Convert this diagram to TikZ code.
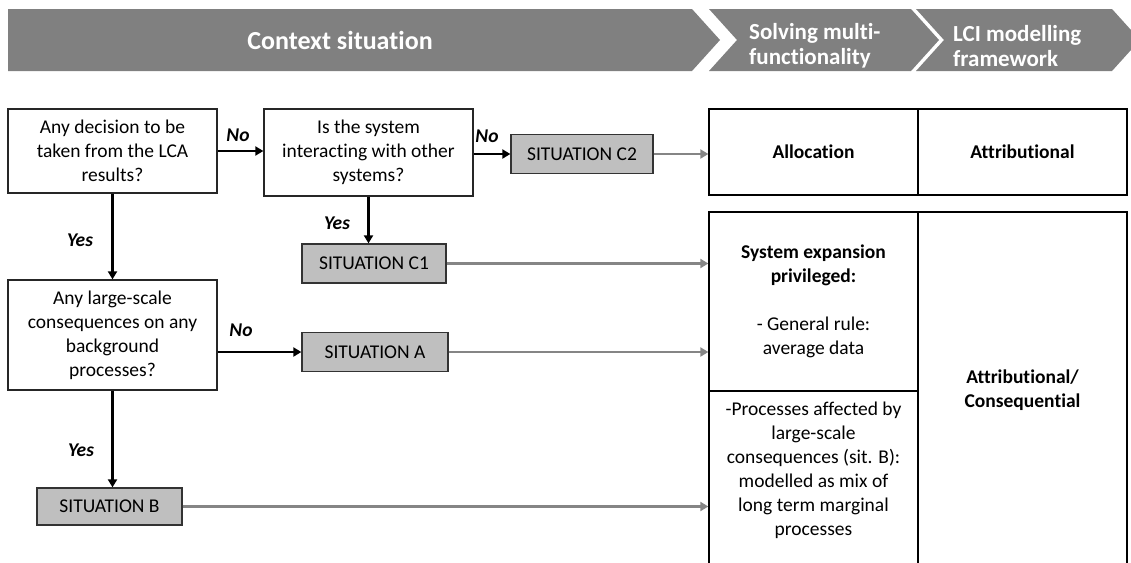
\documentclass[tikz,border=0pt]{standalone}
\usepackage{fontspec}
\setmainfont{Carlito}[Ligatures=NoCommon]
\usetikzlibrary{arrows.meta}
\definecolor{bannergray}{HTML}{808080}
\definecolor{sitgray}{HTML}{BFBFBF}
\definecolor{linkgray}{HTML}{858585}
\tikzset{
  body/.style={font=\fontsize{19.5}{24}\selectfont, align=center, inner sep=0pt},
  qbox/.style={body, draw=black!85, line width=1.3pt, fill=white},
  sitbox/.style={body, draw=black!80, line width=1.3pt, fill=sitgray, minimum height=39pt},
  cell/.style={body, draw=black, line width=1.3pt, minimum width=209pt},
  lbl/.style={font=\fontsize{19.5}{24}\selectfont\bfseries\itshape, inner sep=0pt},
  banner/.style={fill=bannergray, draw=none},
  bantext/.style={text=white, font=\fontsize{23}{25}\selectfont\bfseries, inner sep=0pt},
  arr/.style={draw=black, line width=2.2pt, -{Triangle[length=8pt,width=9pt]}},
  garr/.style={draw=linkgray, line width=2.2pt, -{Triangle[length=8pt,width=9pt]}}
}
\begin{document}
\begin{tikzpicture}[x=1pt,y=-1pt]
\useasboundingbox (0,0) rectangle (1131,562);
\clip (0,0) rectangle (1131,562);
% banner
\fill[banner] (8,9) -- (692,9) -- (720,40) -- (692,71) -- (8,71) -- cycle;
\fill[banner] (709,9) -- (911,9) -- (939,40) -- (911,71) -- (709,71) -- (737,40) -- cycle;
\fill[banner] (916,9) -- (1112,9) -- (1140,40) -- (1112,71) -- (916,71) -- (944,40) -- cycle;
\node[bantext, font=\fontsize{26}{28}\selectfont\bfseries] (tctx) at (340,40) {Context situation};
\node[bantext, anchor=west, align=left] (tsolve) at (749,46) {Solving multi-\\functionality};
\node[bantext, anchor=west, align=left] (tlci) at (953,46) {LCI modelling\\framework};
% questions
\node[qbox, minimum width=209pt, minimum height=84pt] (q1) at (112.5,151) {Any decision to be\\taken from the LCA\\results?};
\node[qbox, minimum width=209pt, minimum height=87pt] (q2) at (368.5,152.5) {Is the system\\interacting with other\\systems?};
\node[qbox, minimum width=209pt, minimum height=110pt] (q3) at (112.5,335) {Any large-scale\\consequences on any\\background\\processes?};
% situations
\node[sitbox, minimum width=142pt] (c2) at (582,154) {SITUATION C2};
\node[sitbox, minimum width=144pt] (c1) at (374,263.5) {SITUATION C1};
\node[sitbox, minimum width=146pt] (sa) at (375,352) {SITUATION A};
\node[sitbox, minimum width=145pt, minimum height=37pt] (sb) at (109.5,506.5) {SITUATION B};
% tables
\node[cell, minimum height=86pt, font=\fontsize{19.5}{24}\selectfont\bfseries] (alloc) at (813.5,152) {Allocation};
\node[cell, minimum height=86pt, font=\fontsize{19.5}{24}\selectfont\bfseries] (attr) at (1022.5,152) {Attributional};
\node[cell, minimum height=179pt] (sysexp) at (813.5,301.5) {\textbf{System expansion}\\\textbf{privileged:}\\[24pt]- General rule:\\average data};
\node[cell, minimum height=179pt] (low) at (813.5,480.5) {};
\node[body] (lowtext) at (813.5,470) {-Processes affected by\\large-scale\\consequences (sit. B):\\modelled as mix of\\long term marginal\\processes};
\node[cell, minimum height=358pt, font=\fontsize{19.5}{24}\selectfont\bfseries] (attcons) at (1022.5,391) {\raisebox{5pt}{\begin{tabular}{@{}c@{}}Attributional/\\Consequential\end{tabular}}};
% black connectors
\draw[arr] (q1.east) -- (q1.east -| q2.west);
\draw[arr] (c2.west -| q2.east) -- (c2.west);
\draw[arr] (q2.south) -- (q2.south |- c1.north);
\draw[arr] (q1.south) -- (q3.north);
\draw[arr] (sa.west -| q3.east) -- (sa.west);
\draw[arr] (q3.south) -- (q3.south |- sb.north);
% gray connectors
\draw[garr] (c2.east) -- (c2.east -| alloc.west);
\draw[garr] (c1.east) -- (c1.east -| sysexp.west);
\draw[garr] (sa.east) -- (sa.east -| sysexp.west);
\draw[garr] (sb.east) -- (sb.east -| low.west);
% labels
\node[lbl] (no1) at (238,135) {No};
\node[lbl] (no2) at (487,136) {No};
\node[lbl] (no3) at (241,330) {No};
\node[lbl] (yes1) at (80,240) {Yes};
\node[lbl] (yes2) at (337,223) {Yes};
\node[lbl] (yes3) at (81,450) {Yes};
\end{tikzpicture}
\end{document}
